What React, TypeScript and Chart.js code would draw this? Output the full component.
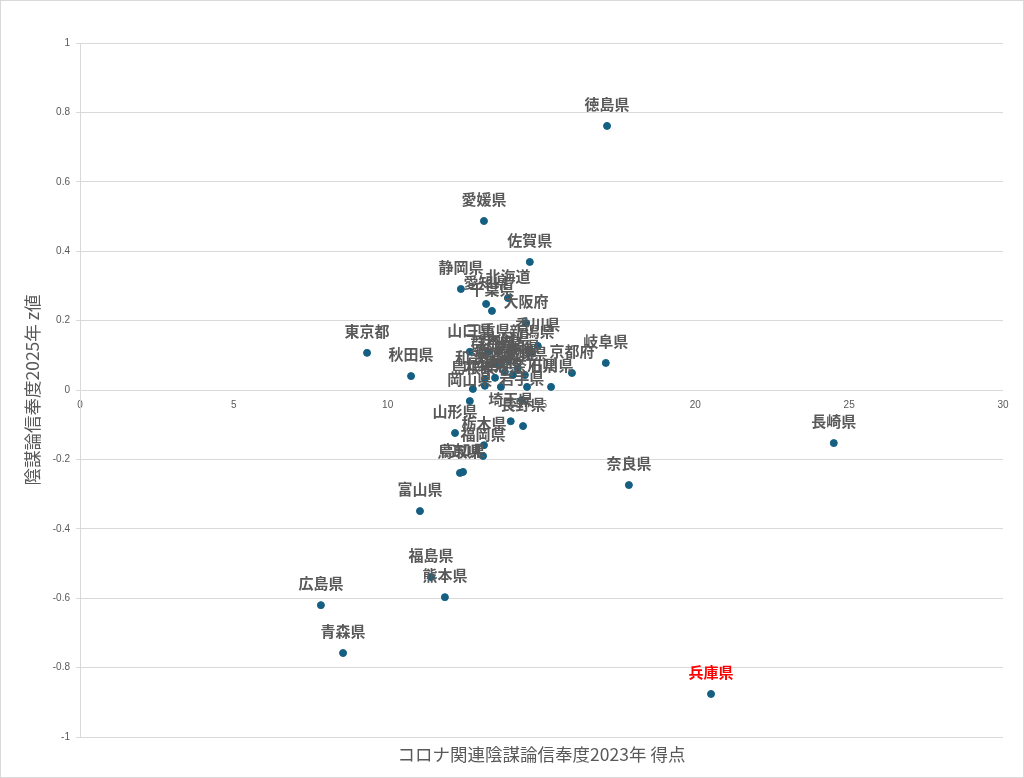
import React, { useEffect, useRef } from "react";
import { Chart, registerables } from "chart.js";

Chart.register(...registerables);

const prefectures = [
  "徳島県", "愛媛県", "佐賀県", "静岡県", "北海道", "愛知県", "千葉県", "大阪府",
  "香川県", "東京都", "秋田県", "岐阜県", "京都府", "石川県", "岡山県", "岩手県",
  "埼玉県", "長野県", "山形県", "栃木県", "福岡県", "鳥取県", "高知県", "富山県",
  "奈良県", "長崎県", "福島県", "熊本県", "広島県", "青森県", "兵庫県",
  "山口県", "三重県", "新潟県", "群馬県", "和歌山県", "島根県", "宮城県", "茨城県",
  "神奈川県", "福井県", "山梨県", "滋賀県", "大分県", "宮崎県", "鹿児島県", "沖縄県",
];

const scores2023 = [
  17.13, 13.13, 14.62, 12.38, 13.91, 13.2, 13.39, 14.5,
  14.88, 9.33, 10.76, 17.09, 15.99, 15.31, 12.67, 14.36,
  14.0, 14.4, 12.19, 13.13, 13.1, 12.35, 12.45, 11.05,
  17.84, 24.5, 11.41, 11.86, 7.83, 8.55, 20.51,
  12.67, 13.26, 14.69, 13.42, 13.16, 12.77, 14.07, 14.46,
  14.53, 13.68, 13.16, 13.65, 13.91, 14.23, 13.81, 13.49,
];

const zValues2025 = [
  0.761, 0.487, 0.369, 0.291, 0.265, 0.248, 0.228, 0.193,
  0.127, 0.107, 0.04, 0.078, 0.049, 0.009, -0.032, -0.029,
  -0.09, -0.104, -0.124, -0.159, -0.19, -0.239, -0.236, -0.349,
  -0.274, -0.153, -0.539, -0.597, -0.62, -0.758, -0.876,
  0.11, 0.11, 0.107, 0.075, 0.032, 0.003, 0.043, 0.043,
  0.009, 0.009, 0.012, 0.072, 0.086, 0.063, 0.052, 0.035,
];

const highlighted = ["兵庫県"];
const xTitle = "コロナ関連陰謀論信奉度2023年 得点";
const yTitle = "陰謀論信奉度2025年 z値";

const GRAY = "#595959";
const GRID = "#d9d9d9";
const POINT = "#156082";
const CJK = '"Noto Sans CJK JP", "Noto Sans", sans-serif';

const labelPlugin = {
  id: "pointLabels",
  afterDatasetsDraw(chart: any) {
    const ctx = chart.ctx;
    const meta = chart.getDatasetMeta(0);
    ctx.save();
    ctx.font = `bold 15px ${CJK}`;
    ctx.textAlign = "center";
    ctx.textBaseline = "middle";
    meta.data.forEach((el: any, i: number) => {
      const name = prefectures[i];
      ctx.fillStyle = highlighted.includes(name) ? "#ff0000" : GRAY;
      ctx.fillText(name, el.x, el.y - 22);
    });
    ctx.restore();
  },
};

const titlesPlugin = {
  id: "axisTitles",
  afterDraw(chart: any) {
    const ctx = chart.ctx;
    const area = chart.chartArea;
    ctx.save();
    ctx.fillStyle = GRAY;
    ctx.font = `17.5px ${CJK}`;
    ctx.textAlign = "center";
    ctx.textBaseline = "middle";
    ctx.fillText(xTitle, (area.left + area.right) / 2, 754);
    ctx.translate(32, (area.top + area.bottom) / 2);
    ctx.rotate(-Math.PI / 2);
    ctx.fillText(yTitle, 0, 0);
    ctx.restore();
    ctx.save();
    ctx.strokeStyle = GRID;
    ctx.lineWidth = 1;
    ctx.strokeRect(0.5, 0.5, chart.width - 1, chart.height - 1);
    ctx.restore();
  },
};

export default function App() {
  const ref = useRef<HTMLCanvasElement>(null);
  useEffect(() => {
    if (!ref.current) return;
    const chart = new Chart(ref.current, {
      type: "scatter",
      data: {
        datasets: [
          {
            data: scores2023.map((x, i) => ({ x, y: zValues2025[i] })),
            backgroundColor: POINT,
            borderColor: POINT,
            pointRadius: 3.5,
            pointHoverRadius: 3.5,
          },
        ],
      },
      options: {
        animation: false,
        responsive: false,
        plugins: {
          legend: { display: false },
          tooltip: { enabled: false },
        },
        layout: { padding: { left: 0, right: 21, top: 43, bottom: 41 } },
        scales: {
          x: {
            type: "linear",
            position: { y: 0 } as any,
            min: 0,
            max: 30,
            grid: { display: false, drawTicks: false },
            border: { display: false },
            ticks: {
              stepSize: 5,
              color: GRAY,
              font: { size: 10, family: '"Liberation Sans", Arial, sans-serif' },
              padding: 9,
            },
          },
          y: {
            type: "linear",
            min: -1,
            max: 1,
            afterFit(scale: any) {
              scale.width = 80;
            },
            grid: { color: GRID, tickLength: 4 },
            border: { display: true, color: GRID },
            ticks: {
              stepSize: 0.2,
              color: GRAY,
              font: { size: 10, family: '"Liberation Sans", Arial, sans-serif' },
              padding: 6,
              callback: (v: any) => String(Number(Number(v).toFixed(1))),
            },
          },
        },
      },
      plugins: [labelPlugin, titlesPlugin],
    });
    return () => chart.destroy();
  }, []);
  return (
    <div style={{ position: "fixed", left: 0, top: 0, width: 1024, height: 778, background: "#fff" }}>
      <canvas ref={ref} width={1024} height={778} />
    </div>
  );
}
